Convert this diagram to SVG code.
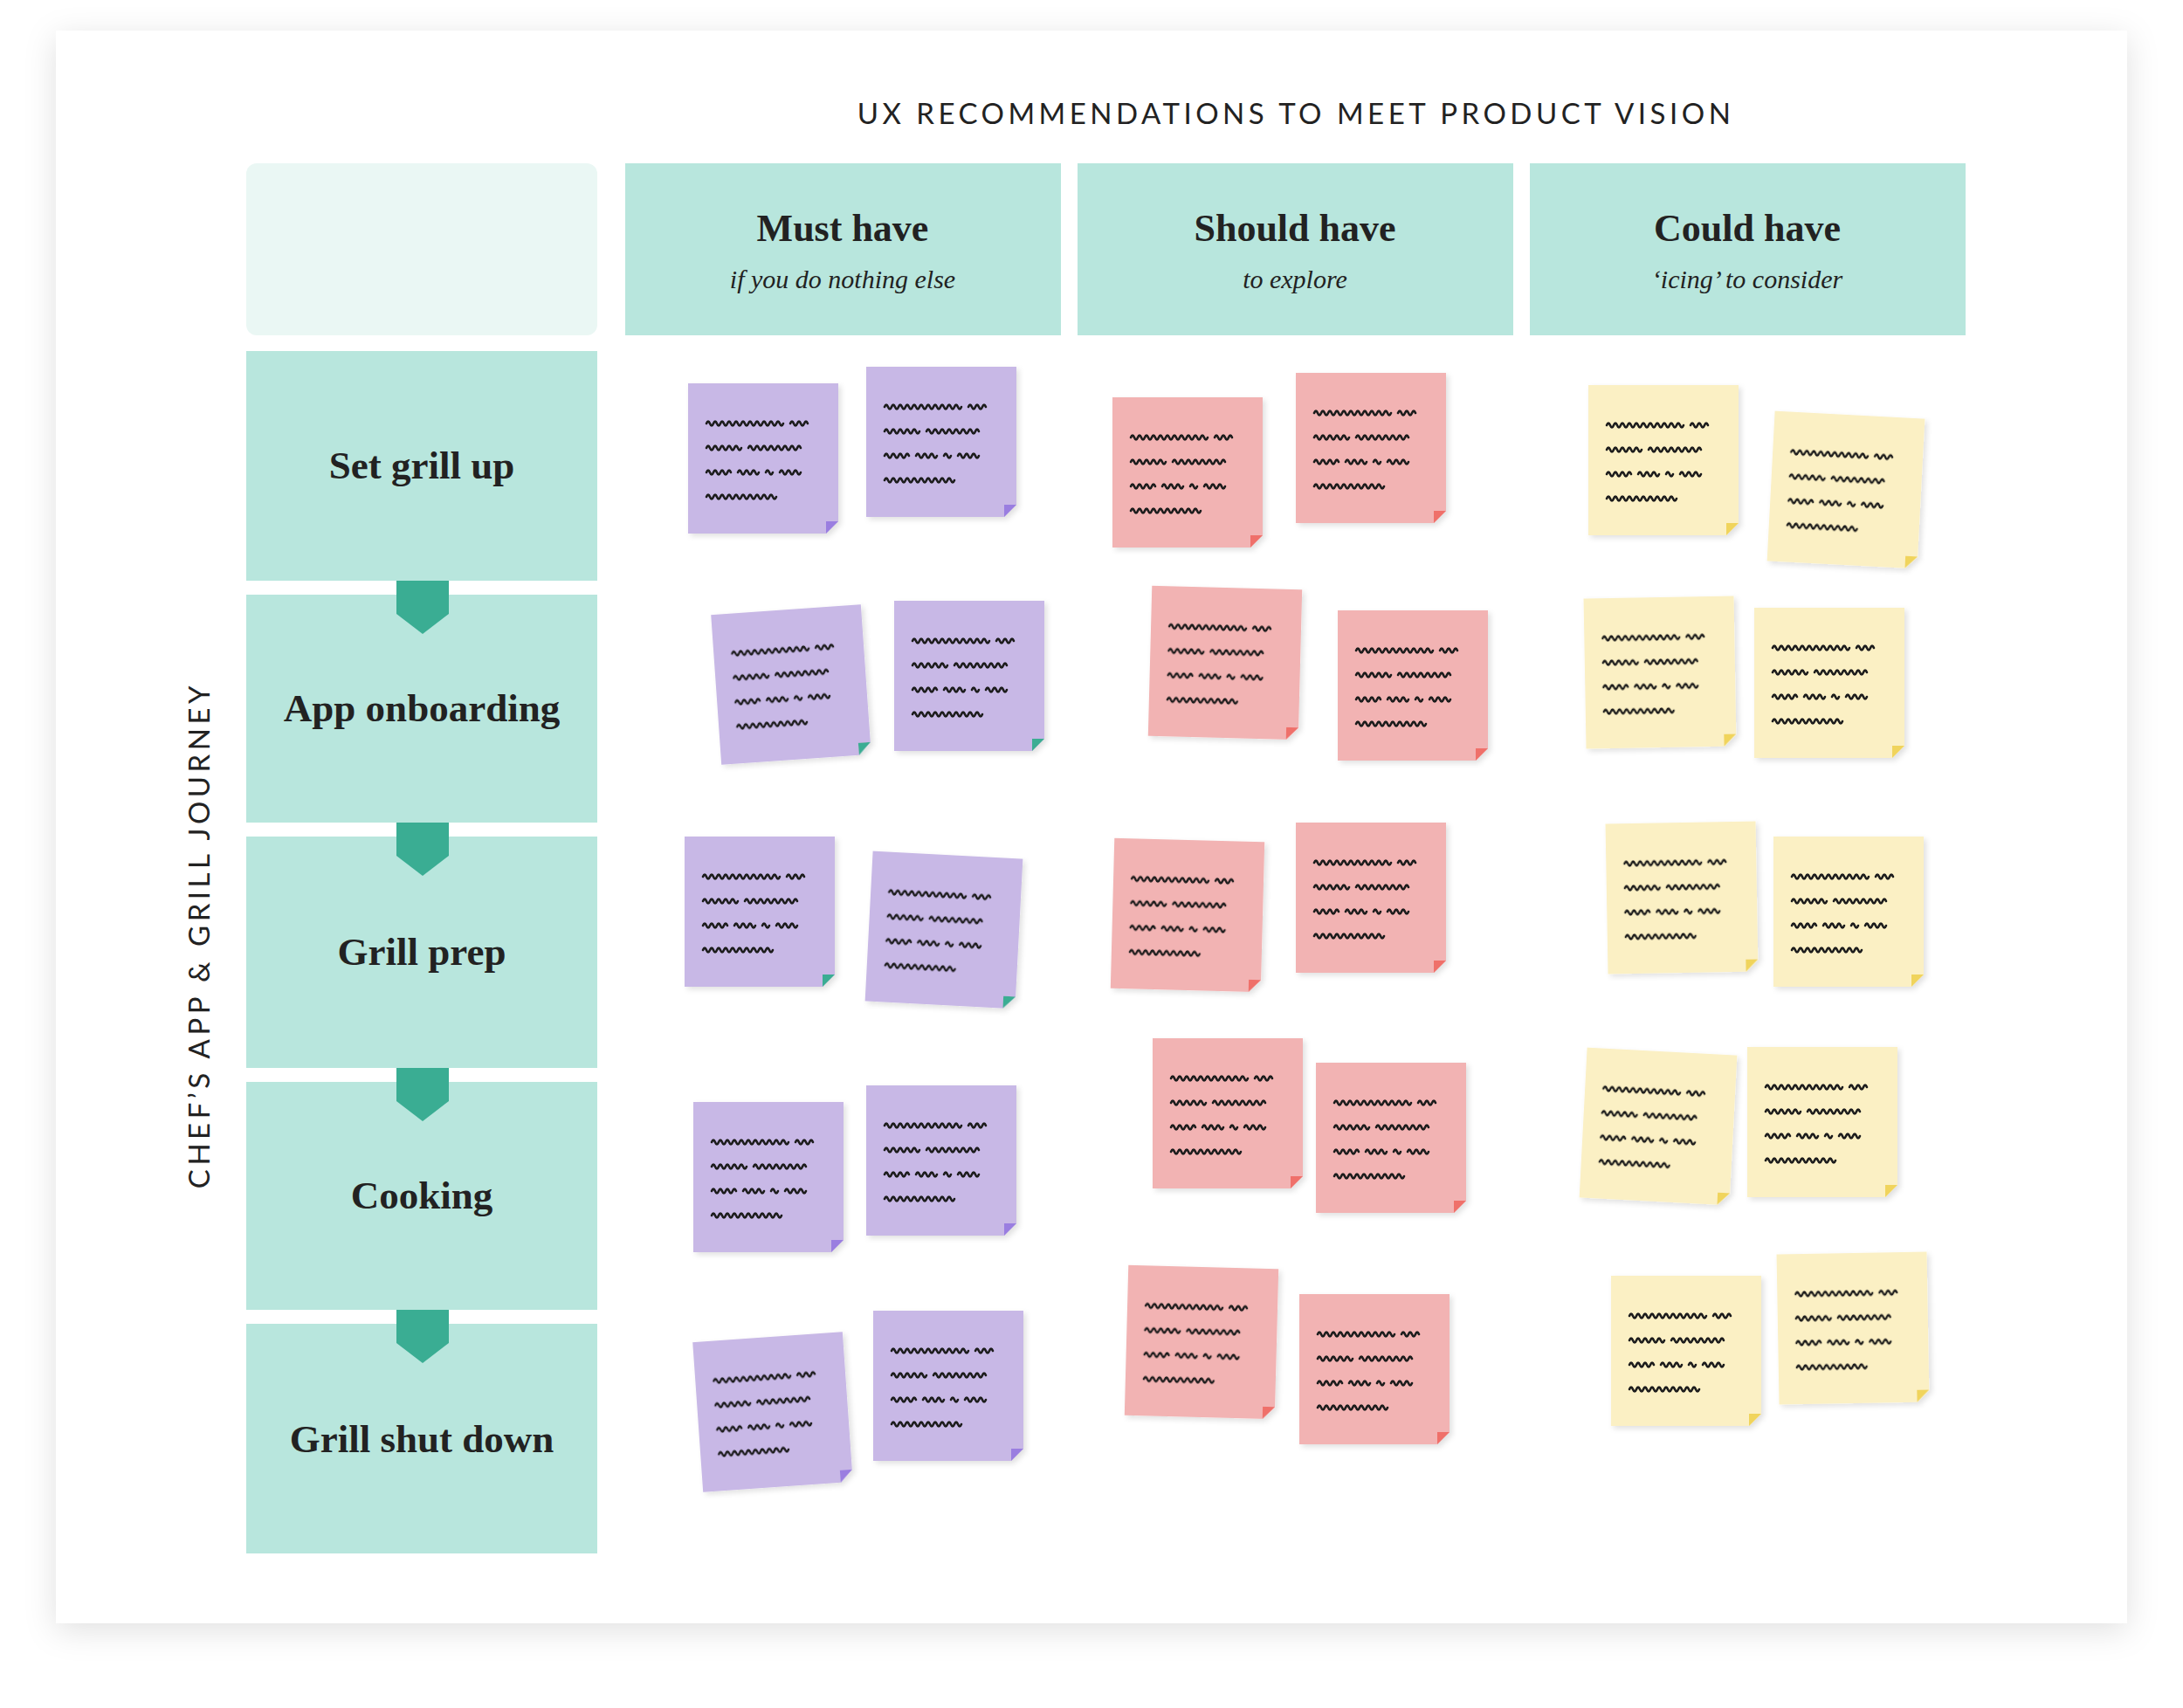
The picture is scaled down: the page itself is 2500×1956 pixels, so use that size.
<svg xmlns="http://www.w3.org/2000/svg" xmlns:xlink="http://www.w3.org/1999/xlink" width="2500" height="1956" viewBox="0 0 2500 1956">
<style>
.hdr{fill:#b8e6dd}
.row{fill:#b8e6dd}
.tab{fill:#3aad93}
.h1{font-family:"Liberation Serif",serif;font-weight:bold;font-size:44px;fill:#222;text-anchor:middle}
.h2{font-family:"Liberation Serif",serif;font-style:italic;font-size:30px;fill:#222;text-anchor:middle}
.rl{font-family:"Liberation Serif",serif;font-weight:bold;font-size:45px;fill:#222;text-anchor:middle}
.cap{font-family:"Lato","Liberation Sans",sans-serif;font-size:33px;letter-spacing:4.5px;fill:#222;text-anchor:middle}
.p{--b:#c8b8e6;--f:#9a7ee0}
.pg{--b:#c8b8e6;--f:#3aad93}
.r{--b:#f2b3b3;--f:#ef6f6a}
.y{--b:#fbf0c4;--f:#f0d45c}
</style>
<defs>
<filter id="sh" x="-5%" y="-5%" width="110%" height="112%"><feDropShadow dx="0" dy="8" stdDeviation="18" flood-color="#000" flood-opacity="0.12"/></filter>
<filter id="ns" x="-10%" y="-10%" width="125%" height="125%"><feDropShadow dx="3" dy="3" stdDeviation="3" flood-color="#000" flood-opacity="0.12"/></filter>
<g id="scr" fill="none" stroke="#1a1a1a" stroke-width="2.6" stroke-linecap="round" stroke-linejoin="round">
<path d="M-65,-40 q2,-5 4,0 t4,0 t4,0 t4,0 t4,0 t4,0 t4,0 t4,0 t4,0 t4,0 t4,0 t4,0 t4,0 t4,0 t4,0 t4,0 t4,0 t4,0 t4,0 t4,0 t4,0 t4,0 M31,-40 q2,-5 4,0 t4,0 t4,0 t4,0 t4,0"/>
<path d="M-65,-12 q2,-5 4,0 t4,0 t4,0 t4,0 t4,0 t4,0 t4,0 t4,0 t4,0 t4,0 M-17,-12 q2,-5 4,0 t4,0 t4,0 t4,0 t4,0 t4,0 t4,0 t4,0 t4,0 t4,0 t4,0 t4,0 t4,0 t4,0 t4,0"/>
<path d="M-65,16 q2,-5 4,0 t4,0 t4,0 t4,0 t4,0 t4,0 t4,0 M-29,16 q2,-5 4,0 t4,0 t4,0 t4,0 t4,0 t4,0 M3,16 q2,-5 4,0 t4,0 M19,16 q2,-5 4,0 t4,0 t4,0 t4,0 t4,0 t4,0"/>
<path d="M-65,44 q2,-5 4,0 t4,0 t4,0 t4,0 t4,0 t4,0 t4,0 t4,0 t4,0 t4,0 t4,0 t4,0 t4,0 t4,0 t4,0 t4,0 t4,0 t4,0 t4,0 t4,0"/>
</g>
<g id="note" filter="url(#ns)">
<path style="fill:var(--b)" d="M-86,-86 H86 V72 L72,86 H-86 Z"/>
<path style="fill:var(--f)" d="M72,72 H86 L72,86 Z"/>
<use xlink:href="#scr" href="#scr"/>
</g>
</defs>
<rect width="2500" height="1956" fill="#fff"/>
<rect x="64" y="35" width="2372" height="1824" fill="#fff" filter="url(#sh)"/>
<text class="cap" x="1484" y="142">UX RECOMMENDATIONS TO MEET PRODUCT VISION</text>
<text class="cap" transform="translate(240,1071) rotate(-90)">CHEF’S APP &amp; GRILL JOURNEY</text>
<rect x="282" y="187" width="402" height="197" rx="12" fill="#eaf7f4"/>
<g id="col-must"><rect class="hdr" x="716" y="187" width="499" height="197"/><text class="h1" x="965" y="276">Must have</text><text class="h2" x="965" y="330">if you do nothing else</text></g>
<g id="col-should"><rect class="hdr" x="1234" y="187" width="499" height="197"/><text class="h1" x="1483" y="276">Should have</text><text class="h2" x="1483" y="330">to explore</text></g>
<g id="col-could"><rect class="hdr" x="1752" y="187" width="499" height="197"/><text class="h1" x="2001" y="276">Could have</text><text class="h2" x="2001" y="330">‘icing’ to consider</text></g>
<g id="row1"><rect class="row" x="282" y="402" width="402" height="263"/><text class="rl" x="483" y="548">Set grill up</text></g>
<g id="row2"><rect class="row" x="282" y="681" width="402" height="261"/><text class="rl" x="483" y="826">App onboarding</text></g>
<g id="row3"><rect class="row" x="282" y="958" width="402" height="265"/><text class="rl" x="483" y="1105">Grill prep</text></g>
<g id="row4"><rect class="row" x="282" y="1239" width="402" height="261"/><text class="rl" x="483" y="1384">Cooking</text></g>
<g id="row5"><rect class="row" x="282" y="1516" width="402" height="263"/><text class="rl" x="483" y="1663">Grill shut down</text></g>
<g id="connectors">
<path class="tab" d="M454,665 H514 V703 L484,726 L454,703 Z"/>
<path class="tab" d="M454,942 H514 V980 L484,1003 L454,980 Z"/>
<path class="tab" d="M454,1223 H514 V1261 L484,1284 L454,1261 Z"/>
<path class="tab" d="M454,1500 H514 V1538 L484,1561 L454,1538 Z"/>
</g>
<g id="notes-must">
<use class="p" href="#note" xlink:href="#note" transform="translate(874,525)"/>
<use class="p" href="#note" xlink:href="#note" transform="translate(1078,506)"/>
<use class="pg" href="#note" xlink:href="#note" transform="translate(906,784) rotate(-4)"/>
<use class="pg" href="#note" xlink:href="#note" transform="translate(1110,774)"/>
<use class="pg" href="#note" xlink:href="#note" transform="translate(870,1044)"/>
<use class="pg" href="#note" xlink:href="#note" transform="translate(1081,1065) rotate(3)"/>
<use class="p" href="#note" xlink:href="#note" transform="translate(880,1348)"/>
<use class="p" href="#note" xlink:href="#note" transform="translate(1078,1329)"/>
<use class="p" href="#note" xlink:href="#note" transform="translate(885,1617) rotate(-4)"/>
<use class="p" href="#note" xlink:href="#note" transform="translate(1086,1587)"/>
</g>
<g id="notes-should">
<use class="r" href="#note" xlink:href="#note" transform="translate(1360,541)"/>
<use class="r" href="#note" xlink:href="#note" transform="translate(1570,513)"/>
<use class="r" href="#note" xlink:href="#note" transform="translate(1403,759) rotate(1.5)"/>
<use class="r" href="#note" xlink:href="#note" transform="translate(1618,785)"/>
<use class="r" href="#note" xlink:href="#note" transform="translate(1360,1048) rotate(1.5)"/>
<use class="r" href="#note" xlink:href="#note" transform="translate(1570,1028)"/>
<use class="r" href="#note" xlink:href="#note" transform="translate(1406,1275)"/>
<use class="r" href="#note" xlink:href="#note" transform="translate(1593,1303)"/>
<use class="r" href="#note" xlink:href="#note" transform="translate(1376,1537) rotate(1.5)"/>
<use class="r" href="#note" xlink:href="#note" transform="translate(1574,1568)"/>
</g>
<g id="notes-could">
<use class="y" href="#note" xlink:href="#note" transform="translate(1905,527)"/>
<use class="y" href="#note" xlink:href="#note" transform="translate(2114,561) rotate(3)"/>
<use class="y" href="#note" xlink:href="#note" transform="translate(1901,770) rotate(-1)"/>
<use class="y" href="#note" xlink:href="#note" transform="translate(2095,782)"/>
<use class="y" href="#note" xlink:href="#note" transform="translate(1926,1028) rotate(-1)"/>
<use class="y" href="#note" xlink:href="#note" transform="translate(2117,1044)"/>
<use class="y" href="#note" xlink:href="#note" transform="translate(1899,1290) rotate(3)"/>
<use class="y" href="#note" xlink:href="#note" transform="translate(2087,1285)"/>
<use class="y" href="#note" xlink:href="#note" transform="translate(1931,1547)"/>
<use class="y" href="#note" xlink:href="#note" transform="translate(2122,1521) rotate(-1)"/>
</g>
</svg>
